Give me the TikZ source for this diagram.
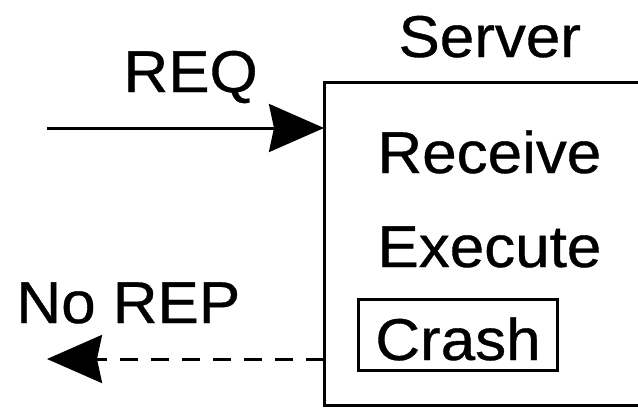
\documentclass[tikz,border=0pt]{standalone}
\usepackage{fontspec}
\setmainfont{Liberation Sans}[FakeStretch=1.05, FakeBold=0.6]
\usetikzlibrary{arrows.meta}
\begin{document}
\begin{tikzpicture}[x=1pt,y=-1pt, line width=3pt,
  lbl/.style={font=\fontsize{59}{59}\selectfont, inner sep=0pt, anchor=base west},
  tip/.style={-{Stealth[length=55pt,width=48pt,inset=5pt]}}]
\useasboundingbox (0,0) rectangle (638,408);
\node[draw, minimum width=340pt, minimum height=323pt, anchor=north west, inner sep=0pt, outer sep=0pt] (srv) at (324,82) {};
\node[lbl] (server) at (397,57) {Server};
\node[lbl] (req) at (122,92) {REQ};
\node[lbl] (norep) at (15,323) {No REP};
\node[lbl] (receive) at (376,173) {Receive};
\node[lbl] (execute) at (376,267) {Execute};
\node[draw, font=\fontsize{59}{59}\selectfont, inner sep=0pt, text height=61pt, text depth=10pt, minimum width=199pt, anchor=base] (crash) at (458,360) {Crash};
\coordinate (reqstart) at (47,128);
\coordinate (repend) at (47,359);
\draw[tip] (reqstart) -- (srv.west |- reqstart);
\draw[tip, dash pattern=on 18pt off 13pt] (srv.west |- repend) -- (repend);
\end{tikzpicture}
\end{document}
